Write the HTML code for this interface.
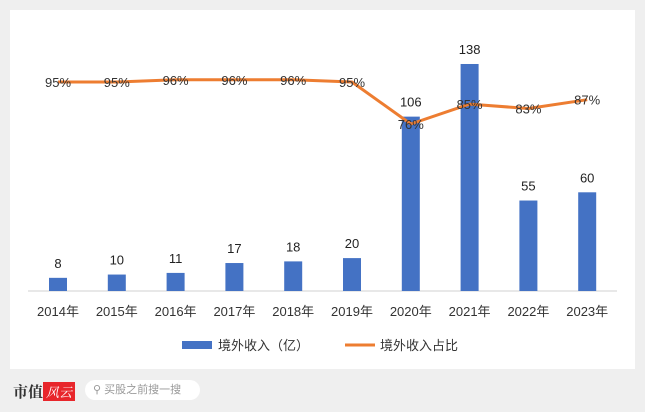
<!DOCTYPE html>
<html><head><meta charset="utf-8"><style>
body{margin:0;width:645px;height:412px;background:#efefef;font-family:"Liberation Sans","Noto Sans CJK SC",sans-serif;overflow:hidden;position:relative}
#panel{position:absolute;left:10px;top:10px;width:625px;height:359px;background:#fff}
svg text{font-family:"Liberation Sans","Noto Sans CJK SC",sans-serif}
</style></head><body>
<div id="panel"></div>
<svg id="chart" width="645" height="412" style="position:absolute;left:0;top:0"></svg>
<div style="position:absolute;left:13px;top:381px;font-size:15px;font-weight:bold;color:#333;font-family:'Noto Serif CJK SC',serif">市值<span style="background:#e8262b;color:#fff;font-style:italic;font-weight:normal;padding:0 3px;font-size:13px">风云</span></div>
<div style="position:absolute;left:85px;top:380px;width:115px;height:20px;background:#fff;border-radius:10px;font-size:11px;color:#999;line-height:20px;padding-left:8px;box-sizing:border-box">&#9906; 买股之前搜一搜</div>
<script>
const categories=["2014年","2015年","2016年","2017年","2018年","2019年","2020年","2021年","2022年","2023年"];
const revenue=[8,10,11,17,18,20,106,138,55,60];
const share=[95,95,96,96,96,95,76,85,83,87];
const shareLabels=["95%","95%","96%","96%","96%","95%","76%","85%","83%","87%"];
const svg=document.getElementById('chart');
const NS='http://www.w3.org/2000/svg';
function x(i){return 58+i*58.8;}
function yb(v){return 291-v*1.645;}
function yl(p){return 82-(p-95)*2.21;}
function mk(t,a){const e=document.createElementNS(NS,t);for(const k in a)e.setAttribute(k,a[k]);svg.appendChild(e);return e;}
let ax=mk('line',{x1:28,x2:617,y1:291,y2:291,stroke:'#d0d0d0','stroke-width':1});


categories.forEach((c,i)=>{
 let r=mk('rect',{x:x(i)-9,y:yb(revenue[i]),width:18,height:291-yb(revenue[i]),fill:'#4472c4'});
 
 
 let t=mk('text',{x:x(i),y:yb(revenue[i])-10,'text-anchor':'middle','font-size':13,fill:'#222'});t.textContent=revenue[i];
 
 
 let l=mk('text',{x:x(i),y:316,'text-anchor':'middle','font-size':13,fill:'#333'});l.textContent=c;
 
 
});
let p=mk('polyline',{points:share.map((v,i)=>x(i)+','+yl(v)).join(' '),fill:'none',stroke:'#ed7d31','stroke-width':3,'stroke-linejoin':'round'});


share.forEach((v,i)=>{
 let t=mk('text',{x:x(i),y:yl(v)+5,'text-anchor':'middle','font-size':13,fill:'#333'});t.textContent=shareLabels[i];
 
 
});
let s1=mk('rect',{x:182,y:341,width:30,height:8,fill:'#4472c4'});


let t1=mk('text',{x:218,y:350,'font-size':13,fill:'#333'});t1.textContent='境外收入（亿）';


let s2=mk('line',{x1:345,x2:375,y1:345,y2:345,stroke:'#ed7d31','stroke-width':3});


let t2=mk('text',{x:380,y:350,'font-size':13,fill:'#333'});t2.textContent='境外收入占比';


</script>
</body></html>
